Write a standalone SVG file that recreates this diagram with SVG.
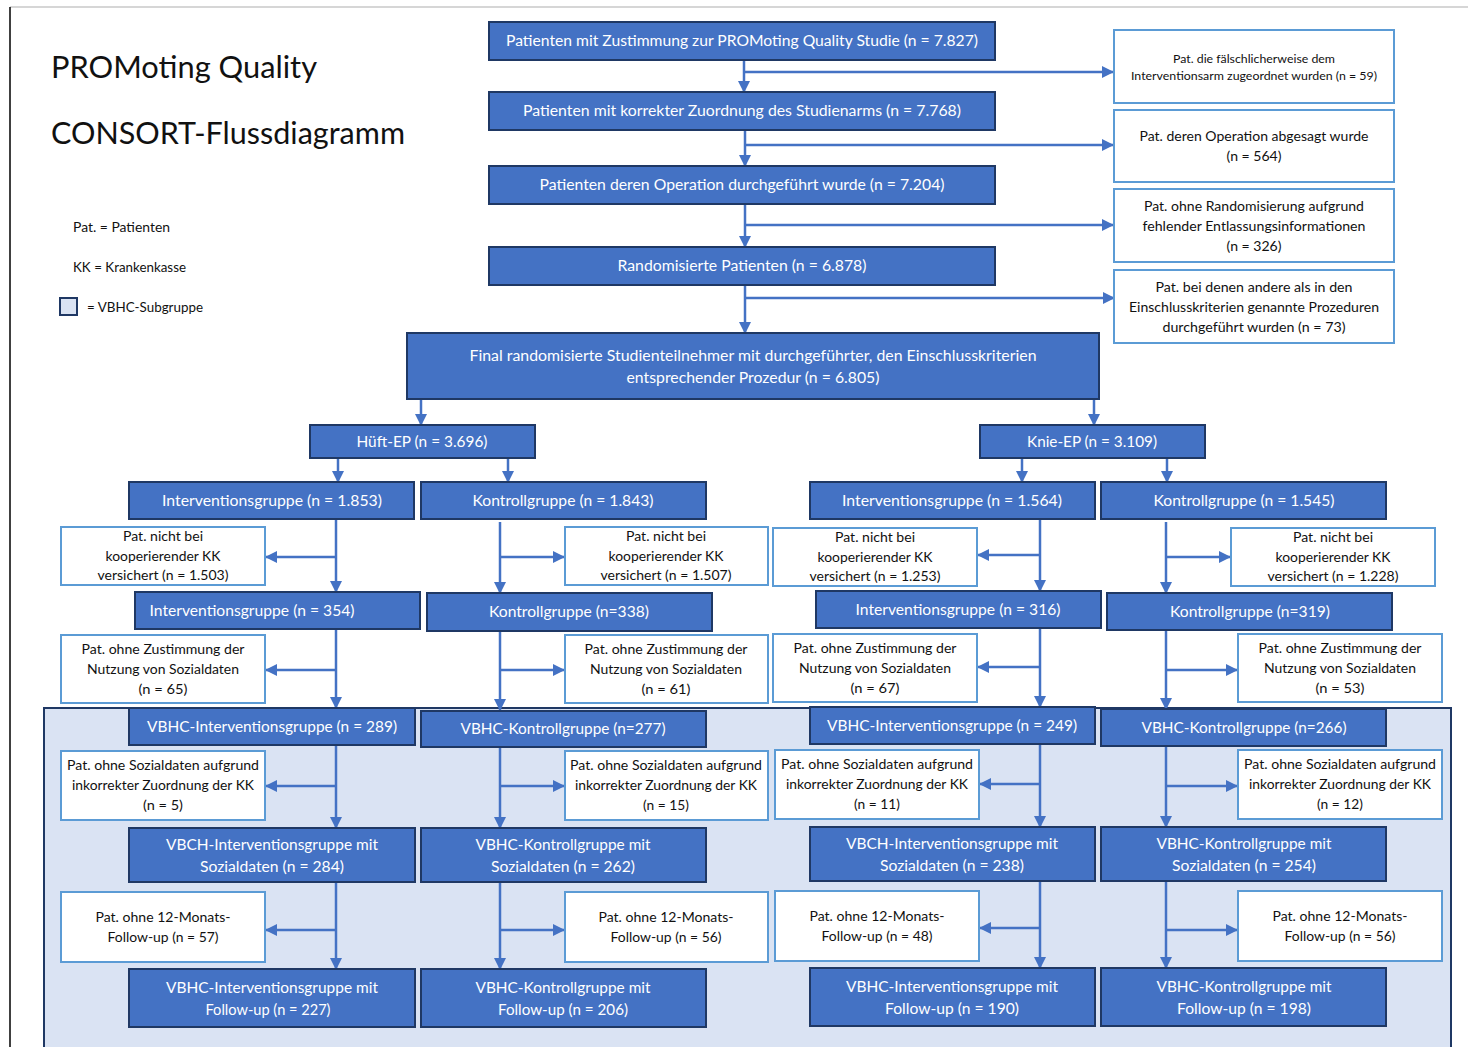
<svg xmlns="http://www.w3.org/2000/svg" width="1468" height="1047" viewBox="0 0 1468 1047">
  <style>
    .dk { fill: #4472c4; stroke: #1f3864; stroke-width: 2; }
    .wt { fill: #ffffff; stroke: #5b9bd5; stroke-width: 2; }
    .tw { fill: #ffffff; font-family: Lato, "Open Sans", "Liberation Sans", sans-serif; font-size: 14.5px; text-anchor: middle; }
    .tl { font-size: 15.5px; }
    .tb { fill: #111111; font-family: Lato, "Open Sans", "Liberation Sans", sans-serif; font-size: 13px; text-anchor: middle; }
    .ts { font-size: 11.5px; }
    .title { fill: #111111; font-family: Lato, "Open Sans", "Liberation Sans", sans-serif; font-size: 31px; }
    .legend { fill: #111111; font-family: Lato, "Open Sans", "Liberation Sans", sans-serif; font-size: 13px; }
    .conn line { stroke: #4472c4; stroke-width: 2.5; fill: none; }
    .conn .a { marker-end: url(#arr); }
  </style>
  <defs>
    <marker id="arr" markerUnits="userSpaceOnUse" markerWidth="12" markerHeight="12" refX="11" refY="6" orient="auto">
      <path d="M0,0 L12,6 L0,12 Z" fill="#4472c4"/>
    </marker>
  </defs>

  <!-- page frame -->
  <rect x="0" y="0" width="1468" height="1047" fill="#ffffff"/>
  <line x1="10" y1="7" x2="1468" y2="7" stroke="#c8c8c8" stroke-width="1.5"/>
  <line x1="10" y1="7" x2="10" y2="1047" stroke="#000000" stroke-width="1.5"/>

  <!-- VBHC subgroup region -->
  <rect id="vbhc-region" x="44" y="708" width="1407" height="345" fill="#dae3f3" stroke="#1f3864" stroke-width="2"/>

  <!-- title and legend -->
  <g id="title">
    <text class="title" x="51" y="78" textLength="266" lengthAdjust="spacingAndGlyphs">PROMoting Quality</text>
    <text class="title" x="51" y="144" textLength="354" lengthAdjust="spacingAndGlyphs">CONSORT-Flussdiagramm</text>
  </g>
  <g id="legend">
    <text class="legend" x="73" y="232" textLength="97" lengthAdjust="spacingAndGlyphs">Pat. = Patienten</text>
    <text class="legend" x="73" y="272" textLength="113" lengthAdjust="spacingAndGlyphs">KK = Krankenkasse</text>
    <rect x="60" y="298" width="17" height="17" fill="#dae3f3" stroke="#1f3864" stroke-width="2"/>
    <text class="legend" x="87" y="312" textLength="116" lengthAdjust="spacingAndGlyphs">= VBHC-Subgruppe</text>
  </g>

  <!-- connectors -->
  <g id="connectors" class="conn">
    <line class="a" x1="744" y1="60" x2="744" y2="92"/>
    <line class="a" x1="744" y1="72" x2="1113" y2="72"/>
    <line class="a" x1="745" y1="130" x2="745" y2="166"/>
    <line class="a" x1="745" y1="145" x2="1113" y2="145"/>
    <line class="a" x1="745" y1="204" x2="745" y2="247"/>
    <line class="a" x1="745" y1="225" x2="1113" y2="225"/>
    <line class="a" x1="745" y1="285" x2="745" y2="333"/>
    <line class="a" x1="745" y1="298" x2="1114" y2="298"/>

    <line class="a" x1="421" y1="399" x2="421" y2="425"/>
    <line class="a" x1="1094" y1="399" x2="1094" y2="425"/>
    <line class="a" x1="338" y1="458" x2="338" y2="482"/>
    <line class="a" x1="508" y1="458" x2="508" y2="482"/>
    <line class="a" x1="1022" y1="458" x2="1022" y2="482"/>
    <line class="a" x1="1167" y1="458" x2="1167" y2="482"/>

    <!-- hip, intervention arm -->
    <line class="a" x1="336" y1="519" x2="336" y2="592"/>
    <line class="a" x1="336" y1="557" x2="266" y2="557"/>
    <line class="a" x1="336" y1="629" x2="336" y2="708"/>
    <line class="a" x1="336" y1="670" x2="266" y2="670"/>
    <line class="a" x1="336" y1="745" x2="336" y2="828"/>
    <line class="a" x1="336" y1="786" x2="266" y2="786"/>
    <line class="a" x1="336" y1="882" x2="336" y2="969"/>
    <line class="a" x1="336" y1="930" x2="266" y2="930"/>

    <!-- hip, control arm -->
    <line class="a" x1="500" y1="522" x2="500" y2="593"/>
    <line class="a" x1="500" y1="557" x2="564" y2="557"/>
    <line class="a" x1="500" y1="631" x2="500" y2="710"/>
    <line class="a" x1="500" y1="670" x2="564" y2="670"/>
    <line class="a" x1="500" y1="747" x2="500" y2="828"/>
    <line class="a" x1="500" y1="786" x2="564" y2="786"/>
    <line class="a" x1="500" y1="882" x2="500" y2="969"/>
    <line class="a" x1="500" y1="930" x2="564" y2="930"/>

    <!-- knee, intervention arm -->
    <line class="a" x1="1040" y1="519" x2="1040" y2="591"/>
    <line class="a" x1="1040" y1="555" x2="978" y2="555"/>
    <line class="a" x1="1040" y1="628" x2="1040" y2="707"/>
    <line class="a" x1="1040" y1="667" x2="978" y2="667"/>
    <line class="a" x1="1040" y1="744" x2="1040" y2="827"/>
    <line class="a" x1="1040" y1="784" x2="980" y2="784"/>
    <line class="a" x1="1040" y1="881" x2="1040" y2="968"/>
    <line class="a" x1="1040" y1="928" x2="980" y2="928"/>

    <!-- knee, control arm -->
    <line class="a" x1="1166" y1="522" x2="1166" y2="593"/>
    <line class="a" x1="1166" y1="557" x2="1230" y2="557"/>
    <line class="a" x1="1166" y1="630" x2="1166" y2="709"/>
    <line class="a" x1="1166" y1="670" x2="1237" y2="670"/>
    <line class="a" x1="1166" y1="746" x2="1166" y2="827"/>
    <line class="a" x1="1166" y1="786" x2="1237" y2="786"/>
    <line class="a" x1="1166" y1="881" x2="1166" y2="968"/>
    <line class="a" x1="1166" y1="930" x2="1237" y2="930"/>
  </g>

  <!-- main flow -->
  <g id="n-zustimmung">
    <rect class="dk" x="489" y="22" width="506" height="38"/>
    <text class="tw" x="742" y="46" textLength="472" lengthAdjust="spacingAndGlyphs">Patienten mit Zustimmung zur PROMoting Quality Studie (n = 7.827)</text>
  </g>
  <g id="n-zuordnung">
    <rect class="dk" x="489" y="92" width="506" height="38"/>
    <text class="tw" x="742" y="116" textLength="438" lengthAdjust="spacingAndGlyphs">Patienten mit korrekter Zuordnung des Studienarms (n = 7.768)</text>
  </g>
  <g id="n-operation">
    <rect class="dk" x="489" y="166" width="506" height="38"/>
    <text class="tw" x="742" y="190" textLength="405" lengthAdjust="spacingAndGlyphs">Patienten deren Operation durchgeführt wurde (n = 7.204)</text>
  </g>
  <g id="n-randomisiert">
    <rect class="dk" x="489" y="247" width="506" height="38"/>
    <text class="tw" x="742" y="271" textLength="249" lengthAdjust="spacingAndGlyphs">Randomisierte Patienten (n = 6.878)</text>
  </g>

  <!-- exclusions, top -->
  <g id="x-falsch">
    <rect class="wt" x="1114" y="30" width="280" height="73"/>
    <text class="tb ts" x="1254" y="63" textLength="162" lengthAdjust="spacingAndGlyphs">Pat. die fälschlicherweise dem</text>
    <text class="tb ts" x="1254" y="80" textLength="246" lengthAdjust="spacingAndGlyphs">Interventionsarm zugeordnet wurden (n = 59)</text>
  </g>
  <g id="x-abgesagt">
    <rect class="wt" x="1114" y="110" width="280" height="72"/>
    <text class="tb" x="1254" y="141" textLength="229" lengthAdjust="spacingAndGlyphs">Pat. deren Operation abgesagt wurde</text>
    <text class="tb" x="1254" y="161" textLength="55" lengthAdjust="spacingAndGlyphs">(n = 564)</text>
  </g>
  <g id="x-entlassung">
    <rect class="wt" x="1114" y="189" width="280" height="73"/>
    <text class="tb" x="1254" y="211" textLength="220" lengthAdjust="spacingAndGlyphs">Pat. ohne Randomisierung aufgrund</text>
    <text class="tb" x="1254" y="231" textLength="223" lengthAdjust="spacingAndGlyphs">fehlender Entlassungsinformationen</text>
    <text class="tb" x="1254" y="251" textLength="55" lengthAdjust="spacingAndGlyphs">(n = 326)</text>
  </g>
  <g id="x-prozeduren">
    <rect class="wt" x="1114" y="270" width="280" height="73"/>
    <text class="tb" x="1254" y="292" textLength="197" lengthAdjust="spacingAndGlyphs">Pat. bei denen andere als in den</text>
    <text class="tb" x="1254" y="312" textLength="250" lengthAdjust="spacingAndGlyphs">Einschlusskriterien genannte Prozeduren</text>
    <text class="tb" x="1254" y="332" textLength="183" lengthAdjust="spacingAndGlyphs">durchgeführt wurden (n = 73)</text>
  </g>

  <g id="n-final">
    <rect class="dk" x="407" y="333" width="692" height="66"/>
    <text class="tw" x="753" y="361" textLength="567" lengthAdjust="spacingAndGlyphs">Final randomisierte Studienteilnehmer mit durchgeführter, den Einschlusskriterien</text>
    <text class="tw" x="753" y="383" textLength="253" lengthAdjust="spacingAndGlyphs">entsprechender Prozedur (n = 6.805)</text>
  </g>

  <g id="n-hueft">
    <rect class="dk" x="310" y="425" width="225" height="33"/>
    <text class="tw" x="422" y="447" textLength="131" lengthAdjust="spacingAndGlyphs">Hüft-EP (n = 3.696)</text>
  </g>
  <g id="n-knie">
    <rect class="dk" x="980" y="425" width="225" height="33"/>
    <text class="tw" x="1092" y="447" textLength="130" lengthAdjust="spacingAndGlyphs">Knie-EP (n = 3.109)</text>
  </g>

  <!-- row 1: randomised arms -->
  <g id="h-ig1">
    <rect class="dk" x="129" y="482" width="285" height="37"/>
    <text class="tw" x="272" y="506" textLength="220" lengthAdjust="spacingAndGlyphs">Interventionsgruppe (n = 1.853)</text>
  </g>
  <g id="h-kg1">
    <rect class="dk" x="421" y="482" width="285" height="37"/>
    <text class="tw" x="563" y="506" textLength="181" lengthAdjust="spacingAndGlyphs">Kontrollgruppe (n = 1.843)</text>
  </g>
  <g id="k-ig1">
    <rect class="dk" x="810" y="482" width="285" height="37"/>
    <text class="tw" x="952" y="506" textLength="220" lengthAdjust="spacingAndGlyphs">Interventionsgruppe (n = 1.564)</text>
  </g>
  <g id="k-kg1">
    <rect class="dk" x="1101" y="482" width="285" height="37"/>
    <text class="tw" x="1244" y="506" textLength="181" lengthAdjust="spacingAndGlyphs">Kontrollgruppe (n = 1.545)</text>
  </g>

  <!-- exclusions: insurer -->
  <g id="hx-kk-ig">
    <rect class="wt" x="61" y="527" width="204" height="58"/>
    <text class="tb" x="163" y="541" textLength="80" lengthAdjust="spacingAndGlyphs">Pat. nicht bei</text>
    <text class="tb" x="163" y="561" textLength="115" lengthAdjust="spacingAndGlyphs">kooperierender KK</text>
    <text class="tb" x="163" y="580" textLength="131" lengthAdjust="spacingAndGlyphs">versichert (n = 1.503)</text>
  </g>
  <g id="hx-kk-kg">
    <rect class="wt" x="565" y="527" width="203" height="58"/>
    <text class="tb" x="666" y="541" textLength="80" lengthAdjust="spacingAndGlyphs">Pat. nicht bei</text>
    <text class="tb" x="666" y="561" textLength="115" lengthAdjust="spacingAndGlyphs">kooperierender KK</text>
    <text class="tb" x="666" y="580" textLength="131" lengthAdjust="spacingAndGlyphs">versichert (n = 1.507)</text>
  </g>
  <g id="kx-kk-ig">
    <rect class="wt" x="773" y="528" width="204" height="58"/>
    <text class="tb" x="875" y="542" textLength="80" lengthAdjust="spacingAndGlyphs">Pat. nicht bei</text>
    <text class="tb" x="875" y="562" textLength="115" lengthAdjust="spacingAndGlyphs">kooperierender KK</text>
    <text class="tb" x="875" y="581" textLength="131" lengthAdjust="spacingAndGlyphs">versichert (n = 1.253)</text>
  </g>
  <g id="kx-kk-kg">
    <rect class="wt" x="1231" y="528" width="204" height="58"/>
    <text class="tb" x="1333" y="542" textLength="80" lengthAdjust="spacingAndGlyphs">Pat. nicht bei</text>
    <text class="tb" x="1333" y="562" textLength="115" lengthAdjust="spacingAndGlyphs">kooperierender KK</text>
    <text class="tb" x="1333" y="581" textLength="131" lengthAdjust="spacingAndGlyphs">versichert (n = 1.228)</text>
  </g>

  <!-- row 2 -->
  <g id="h-ig2">
    <rect class="dk" x="135" y="592" width="285" height="37"/>
    <text class="tw" x="252" y="616" textLength="205" lengthAdjust="spacingAndGlyphs">Interventionsgruppe (n = 354)</text>
  </g>
  <g id="h-kg2">
    <rect class="dk" x="427" y="593" width="285" height="38"/>
    <text class="tw" x="569" y="617" textLength="160" lengthAdjust="spacingAndGlyphs">Kontrollgruppe (n=338)</text>
  </g>
  <g id="k-ig2">
    <rect class="dk" x="816" y="591" width="285" height="37"/>
    <text class="tw" x="958" y="615" textLength="205" lengthAdjust="spacingAndGlyphs">Interventionsgruppe (n = 316)</text>
  </g>
  <g id="k-kg2">
    <rect class="dk" x="1107" y="593" width="285" height="37"/>
    <text class="tw" x="1250" y="617" textLength="160" lengthAdjust="spacingAndGlyphs">Kontrollgruppe (n=319)</text>
  </g>

  <!-- exclusions: consent -->
  <g id="hx-zust-ig">
    <rect class="wt" x="61" y="635" width="204" height="68"/>
    <text class="tb" x="163" y="654" textLength="163" lengthAdjust="spacingAndGlyphs">Pat. ohne Zustimmung der</text>
    <text class="tb" x="163" y="674" textLength="152" lengthAdjust="spacingAndGlyphs">Nutzung von Sozialdaten</text>
    <text class="tb" x="163" y="694" textLength="49" lengthAdjust="spacingAndGlyphs">(n = 65)</text>
  </g>
  <g id="hx-zust-kg">
    <rect class="wt" x="565" y="635" width="203" height="68"/>
    <text class="tb" x="666" y="654" textLength="163" lengthAdjust="spacingAndGlyphs">Pat. ohne Zustimmung der</text>
    <text class="tb" x="666" y="674" textLength="152" lengthAdjust="spacingAndGlyphs">Nutzung von Sozialdaten</text>
    <text class="tb" x="666" y="694" textLength="49" lengthAdjust="spacingAndGlyphs">(n = 61)</text>
  </g>
  <g id="kx-zust-ig">
    <rect class="wt" x="773" y="634" width="204" height="68"/>
    <text class="tb" x="875" y="653" textLength="163" lengthAdjust="spacingAndGlyphs">Pat. ohne Zustimmung der</text>
    <text class="tb" x="875" y="673" textLength="152" lengthAdjust="spacingAndGlyphs">Nutzung von Sozialdaten</text>
    <text class="tb" x="875" y="693" textLength="49" lengthAdjust="spacingAndGlyphs">(n = 67)</text>
  </g>
  <g id="kx-zust-kg">
    <rect class="wt" x="1238" y="634" width="204" height="68"/>
    <text class="tb" x="1340" y="653" textLength="163" lengthAdjust="spacingAndGlyphs">Pat. ohne Zustimmung der</text>
    <text class="tb" x="1340" y="673" textLength="152" lengthAdjust="spacingAndGlyphs">Nutzung von Sozialdaten</text>
    <text class="tb" x="1340" y="693" textLength="49" lengthAdjust="spacingAndGlyphs">(n = 53)</text>
  </g>

  <!-- row 3: VBHC subgroups -->
  <g id="h-ig3">
    <rect class="dk" x="129" y="708" width="286" height="37"/>
    <text class="tw tl" x="272" y="732" textLength="250" lengthAdjust="spacingAndGlyphs">VBHC-Interventionsgruppe (n = 289)</text>
  </g>
  <g id="h-kg3">
    <rect class="dk" x="421" y="711" width="285" height="36"/>
    <text class="tw tl" x="563" y="734" textLength="205" lengthAdjust="spacingAndGlyphs">VBHC-Kontrollgruppe (n=277)</text>
  </g>
  <g id="k-ig3">
    <rect class="dk" x="810" y="707" width="285" height="37"/>
    <text class="tw tl" x="952" y="731" textLength="250" lengthAdjust="spacingAndGlyphs">VBHC-Interventionsgruppe (n = 249)</text>
  </g>
  <g id="k-kg3">
    <rect class="dk" x="1101" y="709" width="285" height="37"/>
    <text class="tw tl" x="1244" y="733" textLength="205" lengthAdjust="spacingAndGlyphs">VBHC-Kontrollgruppe (n=266)</text>
  </g>

  <!-- exclusions: wrong insurer assignment -->
  <g id="hx-soz-ig">
    <rect class="wt" x="61" y="751" width="204" height="69"/>
    <text class="tb" x="163" y="770" textLength="192" lengthAdjust="spacingAndGlyphs">Pat. ohne Sozialdaten aufgrund</text>
    <text class="tb" x="163" y="790" textLength="182" lengthAdjust="spacingAndGlyphs">inkorrekter Zuordnung der KK</text>
    <text class="tb" x="163" y="810" textLength="40" lengthAdjust="spacingAndGlyphs">(n = 5)</text>
  </g>
  <g id="hx-soz-kg">
    <rect class="wt" x="565" y="751" width="203" height="69"/>
    <text class="tb" x="666" y="770" textLength="192" lengthAdjust="spacingAndGlyphs">Pat. ohne Sozialdaten aufgrund</text>
    <text class="tb" x="666" y="790" textLength="182" lengthAdjust="spacingAndGlyphs">inkorrekter Zuordnung der KK</text>
    <text class="tb" x="666" y="810" textLength="46" lengthAdjust="spacingAndGlyphs">(n = 15)</text>
  </g>
  <g id="kx-soz-ig">
    <rect class="wt" x="775" y="750" width="204" height="69"/>
    <text class="tb" x="877" y="769" textLength="192" lengthAdjust="spacingAndGlyphs">Pat. ohne Sozialdaten aufgrund</text>
    <text class="tb" x="877" y="789" textLength="182" lengthAdjust="spacingAndGlyphs">inkorrekter Zuordnung der KK</text>
    <text class="tb" x="877" y="809" textLength="46" lengthAdjust="spacingAndGlyphs">(n = 11)</text>
  </g>
  <g id="kx-soz-kg">
    <rect class="wt" x="1238" y="750" width="204" height="69"/>
    <text class="tb" x="1340" y="769" textLength="192" lengthAdjust="spacingAndGlyphs">Pat. ohne Sozialdaten aufgrund</text>
    <text class="tb" x="1340" y="789" textLength="182" lengthAdjust="spacingAndGlyphs">inkorrekter Zuordnung der KK</text>
    <text class="tb" x="1340" y="809" textLength="46" lengthAdjust="spacingAndGlyphs">(n = 12)</text>
  </g>

  <!-- row 4: with claims data -->
  <g id="h-ig4">
    <rect class="dk" x="129" y="828" width="286" height="54"/>
    <text class="tw tl" x="272" y="850" textLength="212" lengthAdjust="spacingAndGlyphs">VBCH-Interventionsgruppe mit</text>
    <text class="tw tl" x="272" y="872" textLength="144" lengthAdjust="spacingAndGlyphs">Sozialdaten (n = 284)</text>
  </g>
  <g id="h-kg4">
    <rect class="dk" x="421" y="828" width="285" height="54"/>
    <text class="tw tl" x="563" y="850" textLength="175" lengthAdjust="spacingAndGlyphs">VBHC-Kontrollgruppe mit</text>
    <text class="tw tl" x="563" y="872" textLength="144" lengthAdjust="spacingAndGlyphs">Sozialdaten (n = 262)</text>
  </g>
  <g id="k-ig4">
    <rect class="dk" x="810" y="827" width="285" height="54"/>
    <text class="tw tl" x="952" y="849" textLength="212" lengthAdjust="spacingAndGlyphs">VBCH-Interventionsgruppe mit</text>
    <text class="tw tl" x="952" y="871" textLength="144" lengthAdjust="spacingAndGlyphs">Sozialdaten (n = 238)</text>
  </g>
  <g id="k-kg4">
    <rect class="dk" x="1101" y="827" width="285" height="54"/>
    <text class="tw tl" x="1244" y="849" textLength="175" lengthAdjust="spacingAndGlyphs">VBHC-Kontrollgruppe mit</text>
    <text class="tw tl" x="1244" y="871" textLength="144" lengthAdjust="spacingAndGlyphs">Sozialdaten (n = 254)</text>
  </g>

  <!-- exclusions: follow-up -->
  <g id="hx-fu-ig">
    <rect class="wt" x="61" y="892" width="204" height="70"/>
    <text class="tb" x="163" y="922" textLength="135" lengthAdjust="spacingAndGlyphs">Pat. ohne 12-Monats-</text>
    <text class="tb" x="163" y="942" textLength="111" lengthAdjust="spacingAndGlyphs">Follow-up (n = 57)</text>
  </g>
  <g id="hx-fu-kg">
    <rect class="wt" x="565" y="892" width="203" height="70"/>
    <text class="tb" x="666" y="922" textLength="135" lengthAdjust="spacingAndGlyphs">Pat. ohne 12-Monats-</text>
    <text class="tb" x="666" y="942" textLength="111" lengthAdjust="spacingAndGlyphs">Follow-up (n = 56)</text>
  </g>
  <g id="kx-fu-ig">
    <rect class="wt" x="775" y="891" width="204" height="70"/>
    <text class="tb" x="877" y="921" textLength="135" lengthAdjust="spacingAndGlyphs">Pat. ohne 12-Monats-</text>
    <text class="tb" x="877" y="941" textLength="111" lengthAdjust="spacingAndGlyphs">Follow-up (n = 48)</text>
  </g>
  <g id="kx-fu-kg">
    <rect class="wt" x="1238" y="891" width="204" height="70"/>
    <text class="tb" x="1340" y="921" textLength="135" lengthAdjust="spacingAndGlyphs">Pat. ohne 12-Monats-</text>
    <text class="tb" x="1340" y="941" textLength="111" lengthAdjust="spacingAndGlyphs">Follow-up (n = 56)</text>
  </g>

  <!-- row 5: with follow-up -->
  <g id="h-ig5">
    <rect class="dk" x="129" y="969" width="286" height="58"/>
    <text class="tw tl" x="272" y="993" textLength="212" lengthAdjust="spacingAndGlyphs">VBHC-Interventionsgruppe mit</text>
    <text class="tw tl" x="268" y="1015" textLength="125" lengthAdjust="spacingAndGlyphs">Follow-up (n = 227)</text>
  </g>
  <g id="h-kg5">
    <rect class="dk" x="421" y="969" width="285" height="58"/>
    <text class="tw tl" x="563" y="993" textLength="175" lengthAdjust="spacingAndGlyphs">VBHC-Kontrollgruppe mit</text>
    <text class="tw tl" x="563" y="1015" textLength="130" lengthAdjust="spacingAndGlyphs">Follow-up (n = 206)</text>
  </g>
  <g id="k-ig5">
    <rect class="dk" x="810" y="968" width="285" height="58"/>
    <text class="tw tl" x="952" y="992" textLength="212" lengthAdjust="spacingAndGlyphs">VBHC-Interventionsgruppe mit</text>
    <text class="tw tl" x="952" y="1014" textLength="134" lengthAdjust="spacingAndGlyphs">Follow-up (n = 190)</text>
  </g>
  <g id="k-kg5">
    <rect class="dk" x="1101" y="968" width="285" height="58"/>
    <text class="tw tl" x="1244" y="992" textLength="175" lengthAdjust="spacingAndGlyphs">VBHC-Kontrollgruppe mit</text>
    <text class="tw tl" x="1244" y="1014" textLength="134" lengthAdjust="spacingAndGlyphs">Follow-up (n = 198)</text>
  </g>
</svg>
